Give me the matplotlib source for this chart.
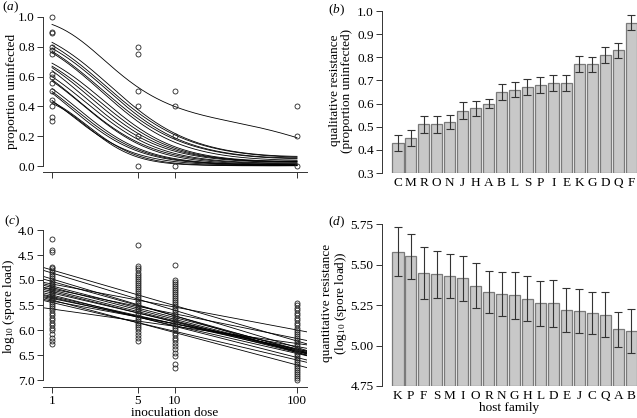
import numpy as np
import matplotlib
matplotlib.use("Agg")
import matplotlib.pyplot as plt

plt.rcParams["font.family"] = ["Liberation Serif", "DejaVu Serif"]
plt.rcParams["mathtext.fontset"] = "custom"
plt.rcParams["mathtext.rm"] = "Liberation Serif"
plt.rcParams["mathtext.it"] = "Liberation Serif:italic"
FS = 9.5
plt.rcParams["font.size"] = FS

# ---- data -------------------------------------------------------------
doses = [1, 5, 10, 100]

# (a) observed proportion uninfected per dose
prop_obs = {
    1: [1.0, 0.9, 0.89, 0.8, 0.78, 0.75, 0.62, 0.6, 0.56, 0.5, 0.44, 0.4, 0.33, 0.3],
    5: [0.8, 0.75, 0.5, 0.4, 0.2, 0.0],
    10: [0.5, 0.4, 0.2, 0.0],
    100: [0.4, 0.2, 0.0],
}
# (a) fitted curves: proportion uninfected at doses 1, 5, 10, 100
fit_d1 = [0.95, 0.83, 0.81, 0.79, 0.77, 0.76, 0.69, 0.67, 0.66, 0.64,
          0.60, 0.58, 0.57, 0.52, 0.50, 0.49, 0.44, 0.43, 0.42]
fit_d5 = [0.53, 0.38, 0.36, 0.34, 0.32, 0.30, 0.26, 0.24, 0.22, 0.20,
          0.18, 0.16, 0.15, 0.12, 0.11, 0.10, 0.08, 0.07, 0.06]
fit_d10 = [0.40, 0.22, 0.21, 0.19, 0.18, 0.16, 0.13, 0.12, 0.11, 0.10,
           0.085, 0.075, 0.065, 0.05, 0.045, 0.04, 0.03, 0.02, 0.015]
fit_d100 = [0.19, 0.065, 0.06, 0.055, 0.05, 0.04, 0.035, 0.03, 0.03, 0.025,
            0.02, 0.015, 0.012, 0.01, 0.008, 0.006, 0.004, 0.003, 0.002]

# (c) log10 spore load per dose
spore_obs = {
    1: [4.18, 4.40, 4.43, 4.73, 4.76, 4.80, 4.84, 4.88, 4.92, 4.96, 5.00, 5.04,
        5.07, 5.10, 5.13, 5.16, 5.19, 5.22, 5.25, 5.28, 5.31, 5.34, 5.37, 5.40,
        5.43, 5.47, 5.51, 5.55, 5.60, 5.65, 5.70, 5.75, 5.80, 5.85, 5.90, 5.95,
        6.00, 6.07, 6.15, 6.22, 6.27],
    5: [4.30, 4.72, 4.76, 4.80, 4.85, 4.89, 4.93, 4.97, 5.01, 5.05, 5.09, 5.13,
        5.17, 5.21, 5.25, 5.29, 5.33, 5.37, 5.41, 5.45, 5.49, 5.53, 5.57, 5.61,
        5.65, 5.69, 5.73, 5.77, 5.81, 5.85, 5.89, 5.93, 5.98, 6.04, 6.10, 6.16,
        6.22],
    10: [4.70, 5.00, 5.04, 5.08, 5.12, 5.16, 5.20, 5.24, 5.28, 5.32, 5.36, 5.40,
         5.44, 5.48, 5.52, 5.56, 5.60, 5.64, 5.68, 5.72, 5.76, 5.80, 5.84, 5.88,
         5.92, 5.96, 6.00, 6.05, 6.10, 6.15, 6.20, 6.26, 6.32, 6.38, 6.45, 6.52,
         6.68, 6.75],
    100: [5.45, 5.50, 5.55, 5.60, 5.65, 5.70, 5.75, 5.80, 5.85, 5.90, 5.95, 6.00,
          6.04, 6.08, 6.12, 6.16, 6.20, 6.24, 6.28, 6.32, 6.36, 6.40, 6.44, 6.48,
          6.52, 6.56, 6.60, 6.64, 6.68, 6.72, 6.76, 6.80, 6.84, 6.88, 6.92, 6.96,
          7.00],
}
# (c) fitted lines: log10 spore load at dose 1 and dose 100
line_d1 = [4.80, 4.86, 4.98, 5.03, 5.08, 5.12, 5.15, 5.18, 5.20, 5.23,
           5.26, 5.30, 5.33, 5.35, 5.37, 5.40, 5.42, 5.45, 5.58]
line_d100 = [6.22, 6.35, 6.45, 6.40, 6.00, 6.38, 6.42, 6.17, 6.43, 6.45,
             6.40, 6.55, 6.42, 6.47, 6.38, 6.70, 6.33, 6.60, 6.27]

# (b) qualitative resistance
qual_fam = ["C", "M", "R", "O", "N", "J", "H", "A", "B", "L", "S", "P", "I",
            "E", "K", "G", "D", "Q", "F"]
qual_val = [0.43, 0.45, 0.51, 0.51, 0.52, 0.57, 0.58, 0.60, 0.65, 0.66, 0.67,
            0.68, 0.69, 0.69, 0.77, 0.77, 0.81, 0.83, 0.95]
qual_err = [0.035, 0.035, 0.035, 0.035, 0.032, 0.035, 0.032, 0.02, 0.035, 0.033,
            0.035, 0.033, 0.035, 0.035, 0.035, 0.033, 0.033, 0.033, 0.033]

# (d) quantitative resistance
quan_fam = ["K", "P", "F", "S", "M", "I", "O", "R", "N", "G", "H", "L", "D",
            "E", "J", "C", "Q", "A", "B"]
quan_val = [5.58, 5.55, 5.45, 5.44, 5.43, 5.415, 5.37, 5.33, 5.32, 5.31, 5.29,
            5.26, 5.26, 5.22, 5.215, 5.20, 5.19, 5.10, 5.09]
quan_err = [0.15, 0.14, 0.16, 0.145, 0.135, 0.14, 0.14, 0.13, 0.135, 0.145,
            0.14, 0.14, 0.145, 0.135, 0.135, 0.13, 0.14, 0.11, 0.135]

# ---- layout -----------------------------------------------------------
W, H = 637, 418
fig = plt.figure(figsize=(W / 100, H / 100), dpi=100)


def px_axes(left, top, right, bottom):
    return fig.add_axes([left / W, 1 - bottom / H, (right - left) / W, (bottom - top) / H])


def r_style(ax):
    for s in ["top", "right"]:
        ax.spines[s].set_visible(False)
    for s in ["left", "bottom"]:
        ax.spines[s].set_linewidth(0.7)
        ax.spines[s].set_color("#333333")
    ax.tick_params(length=4, width=0.7, color="#333333", labelsize=FS, pad=2)


line_kw = dict(color="black", lw=0.6)
pt_kw = dict(marker="o", ms=3.6, mfc="none", mec="#222222", mew=0.6, ls="none")

# (a)
ax_a = px_axes(43, 11, 307, 172)
r_style(ax_a)
ax_a.set_xscale("log")
ax_a.set_xlim(0.844, 120.7)
ax_a.set_ylim(-0.04, 1.04)
logd = np.log10(doses)
xs = np.geomspace(1, 100, 200)
for i in range(len(fit_d1)):
    p = np.array([fit_d1[i], fit_d5[i], fit_d10[i], fit_d100[i]])
    coef = np.polyfit(logd, np.log(p / (1 - p)), 3)
    z = np.polyval(coef, np.log10(xs))
    ax_a.plot(xs, 1 / (1 + np.exp(-z)), **line_kw)
for d in doses:
    ax_a.plot([d] * len(prop_obs[d]), prop_obs[d], **pt_kw)
ax_a.set_xticks(doses)
ax_a.set_xticklabels([])
ax_a.minorticks_off()
ax_a.set_yticks(np.arange(0, 1.01, 0.2))
ax_a.set_yticklabels([f"{v:.1f}" for v in np.arange(0, 1.01, 0.2)])
ax_a.spines["left"].set_bounds(0, 1)
ax_a.set_ylabel("proportion uninfected", fontsize=FS)
ax_a.yaxis.set_label_coords(-0.095, 0.5)

# (c)
ax_c = px_axes(43, 225, 307, 387)
r_style(ax_c)
ax_c.set_xscale("log")
ax_c.set_xlim(0.844, 120.7)
ax_c.set_ylim(7.14, 3.9)
xl = np.array([0.844, 120.7])
for a0, a100 in zip(line_d1, line_d100):
    ax_c.plot(xl, a0 + (a100 - a0) / 2 * np.log10(xl), **line_kw)
for d in doses:
    ax_c.plot([d] * len(spore_obs[d]), spore_obs[d], **pt_kw)
ax_c.set_xticks(doses)
ax_c.set_xticklabels([str(d) for d in doses])
ax_c.minorticks_off()
ax_c.set_yticks(np.arange(4.0, 7.01, 0.5))
ax_c.set_yticklabels([f"{v:.1f}" for v in np.arange(4.0, 7.01, 0.5)])
ax_c.spines["left"].set_bounds(4.0, 7.0)
ax_c.set_ylabel("log$_{10}$ (spore load)", fontsize=FS)
ax_c.yaxis.set_label_coords(-0.097, 0.5)
ax_c.set_xlabel("inoculation dose", fontsize=FS, labelpad=0)

bar_kw = dict(width=0.89, color="#c8c8c8", edgecolor="#7a7a7a", linewidth=0.9)
err_kw = dict(fmt="none", ecolor="#333333", elinewidth=0.8, capsize=2.6, capthick=0.8)

# (b)
ax_b = px_axes(382, 8, 637, 173)
r_style(ax_b)
xb = np.arange(len(qual_fam))
ax_b.bar(xb, np.array(qual_val) - 0.3, bottom=0.3, **bar_kw)
ax_b.errorbar(xb, qual_val, yerr=qual_err, **err_kw)
ax_b.set_xlim(-1.214, 18.44)
ax_b.set_ylim(0.3, 1.013)
ax_b.spines["bottom"].set_visible(False)
ax_b.spines["left"].set_bounds(0.3, 1.0)
ax_b.set_yticks(np.arange(0.3, 1.001, 0.1))
ax_b.set_yticklabels([f"{v:.1f}" for v in np.arange(0.3, 1.001, 0.1)])
ax_b.set_xticks(xb)
ax_b.set_xticklabels(qual_fam)
ax_b.tick_params(axis="x", length=0, pad=3)
ax_b.set_ylabel("qualitative resistance\n(proportion uninfected)", fontsize=FS,
                linespacing=1.0)
ax_b.yaxis.set_label_coords(-0.114, 0.5)

# (d)
ax_d = px_axes(382, 220, 637, 386)
r_style(ax_d)
xd = np.arange(len(quan_fam))
ax_d.bar(xd, np.array(quan_val) - 4.75, bottom=4.75, **bar_kw)
ax_d.errorbar(xd, quan_val, yerr=quan_err, **err_kw)
ax_d.set_xlim(-1.214, 18.44)
ax_d.set_ylim(4.75, 5.775)
ax_d.spines["bottom"].set_visible(False)
ax_d.spines["left"].set_bounds(4.75, 5.75)
ax_d.set_yticks([4.75, 5.0, 5.25, 5.5, 5.75])
ax_d.set_yticklabels(["4.75", "5.00", "5.25", "5.50", "5.75"])
ax_d.set_xticks(xd)
ax_d.set_xticklabels(quan_fam)
ax_d.tick_params(axis="x", length=0, pad=3)
ax_d.set_xlabel("host family", fontsize=FS, labelpad=0)
ax_d.set_ylabel("quantitative resistance\n(log$_{10}$ (spore load))", fontsize=FS,
                linespacing=1.0)
ax_d.yaxis.set_label_coords(-0.128, 0.5)

# panel letters
for txt, x, y in [("a", 2, 7), ("b", 328, 10), ("c", 4, 221), ("d", 328, 222)]:
    fig.text(x / W, 1 - y / H, f"(${txt}$)", fontsize=FS, va="center", ha="left")

fig.savefig("out.png", dpi=100)
